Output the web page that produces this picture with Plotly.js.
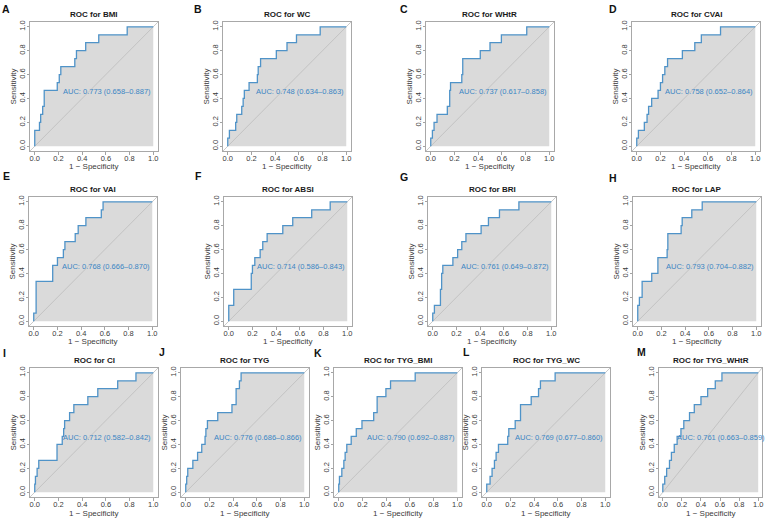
<!DOCTYPE html>
<html>
<head>
<meta charset="utf-8">
<script src="https://cdn.plot.ly/plotly-3.0.1.min.js"></script>
<style>html,body{margin:0;padding:0;background:#fff;}#chart{width:767px;height:519px;}</style>
</head>
<body>
<div id="chart"></div>
<script>
// ---- data ----
const panelLetters = ['A','B','C','D','E','F','G','H','I','J','K','L','M'];
const panelNames = ['BMI','WC','WHtR','CVAI','VAI','ABSI','BRI','LAP','CI','TYG','TYG_BMI','TYG_WC','TYG_WHtR'];
const aucLabels = [
  'AUC: 0.773 (0.658–0.887)','AUC: 0.748 (0.634–0.863)','AUC: 0.737 (0.617–0.858)','AUC: 0.758 (0.652–0.864)',
  'AUC: 0.768 (0.666–0.870)','AUC: 0.714 (0.586–0.843)','AUC: 0.761 (0.649–0.872)','AUC: 0.793 (0.704–0.882)',
  'AUC: 0.712 (0.582–0.842)','AUC: 0.776 (0.686–0.866)','AUC: 0.790 (0.692–0.887)','AUC: 0.769 (0.677–0.860)',
  'AUC: 0.761 (0.663–0.859)'];
const tickValues = [0, 0.2, 0.4, 0.6, 0.8, 1.0];
const tickLabels = ['0.0','0.2','0.4','0.6','0.8','1.0'];

// 1 - specificity (x) and sensitivity (y) at each step corner
const fprBMI = [0,0,0.04,0.05,0.067,0.08,0.19,0.207,0.22,0.338,0.352,0.43,0.54,0.78,1];
const tprBMI = [0,0.133,0.2,0.267,0.333,0.467,0.533,0.6,0.667,0.733,0.8,0.867,0.933,1,1];
const fprWC = [0,0,0.014,0.067,0.076,0.118,0.13,0.14,0.18,0.25,0.257,0.277,0.41,0.5,0.58,0.78,1];
const tprWC = [0,0.067,0.133,0.2,0.267,0.333,0.4,0.467,0.533,0.6,0.667,0.733,0.8,0.867,0.933,1,1];
const fprWHtR = [0,0,0.014,0.028,0.053,0.14,0.16,0.167,0.262,0.27,0.418,0.5,0.596,0.81,1];
const tprWHtR = [0,0.067,0.133,0.2,0.267,0.333,0.467,0.533,0.6,0.733,0.8,0.867,0.933,1,1];
const fprCVAI = [0,0,0.014,0.064,0.087,0.1,0.126,0.18,0.2,0.218,0.237,0.26,0.385,0.49,0.545,0.707,1];
const tprCVAI = [0,0.067,0.133,0.2,0.267,0.333,0.4,0.467,0.533,0.6,0.667,0.733,0.8,0.867,0.933,1,1];
const fprVAI = [0,0,0.02,0.16,0.2,0.25,0.263,0.35,0.375,0.44,0.57,0.585,1];
const tprVAI = [0,0.067,0.333,0.467,0.533,0.6,0.667,0.733,0.8,0.867,0.933,1,1];
const fprABSI = [0,0,0.042,0.19,0.2,0.22,0.265,0.287,0.324,0.456,0.54,0.7,0.856,1];
const tprABSI = [0,0.133,0.267,0.4,0.467,0.533,0.6,0.667,0.733,0.8,0.867,0.933,1,1];
const fprBRI = [0,0,0.014,0.065,0.075,0.085,0.17,0.21,0.245,0.28,0.408,0.47,0.563,0.727,1];
const tprBRI = [0,0.067,0.133,0.267,0.4,0.467,0.533,0.6,0.667,0.733,0.8,0.867,0.933,1,1];
const fprLAP = [0,0,0.014,0.037,0.118,0.17,0.248,0.254,0.366,0.375,0.456,0.544,1];
const tprLAP = [0,0.133,0.2,0.333,0.4,0.533,0.6,0.733,0.8,0.867,0.933,1,1];
const fprCI = [0,0,0.006,0.02,0.034,0.188,0.232,0.244,0.252,0.294,0.33,0.448,0.532,0.7,0.854,1];
const tprCI = [0,0.067,0.133,0.2,0.267,0.4,0.467,0.533,0.6,0.667,0.733,0.8,0.867,0.933,1,1];
const fprTYG = [0,0,0.008,0.017,0.06,0.1,0.135,0.163,0.17,0.183,0.27,0.39,0.425,0.453,0.467,1];
const tprTYG = [0,0.067,0.133,0.2,0.267,0.333,0.4,0.467,0.533,0.6,0.667,0.733,0.867,0.933,1,1];
const fprTYG_BMI = [0,0,0.006,0.026,0.043,0.054,0.068,0.105,0.148,0.196,0.295,0.324,0.398,0.437,0.645,1];
const tprTYG_BMI = [0,0.067,0.133,0.2,0.267,0.333,0.4,0.467,0.533,0.6,0.667,0.8,0.867,0.933,1,1];
const fprTYG_WC = [0,0,0.028,0.045,0.065,0.079,0.099,0.177,0.186,0.24,0.285,0.375,0.437,0.453,0.577,1];
const tprTYG_WC = [0,0.067,0.133,0.2,0.267,0.333,0.4,0.467,0.533,0.6,0.733,0.8,0.867,0.933,1,1];
const fprTYG_WHtR = [0,0,0.02,0.04,0.07,0.09,0.12,0.15,0.19,0.22,0.28,0.33,0.4,0.47,0.55,0.62,1];
const tprTYG_WHtR = [0,0.067,0.133,0.2,0.267,0.333,0.4,0.467,0.533,0.6,0.667,0.733,0.8,0.867,0.933,1,1];

const fprs = [fprBMI,fprWC,fprWHtR,fprCVAI,fprVAI,fprABSI,fprBRI,fprLAP,fprCI,fprTYG,fprTYG_BMI,fprTYG_WC,fprTYG_WHtR];
const tprs = [tprBMI,tprWC,tprWHtR,tprCVAI,tprVAI,tprABSI,tprBRI,tprLAP,tprCI,tprTYG,tprTYG_BMI,tprTYG_WC,tprTYG_WHtR];

// ---- layout (pixel boxes of each plot frame: left, top, right, bottom) ----
const W = 767, H = 519;
const boxes = [
  [30,22,158,151],[223,22,351,151],[426,22,554,151],[632,22,760,151],
  [29,197,157,326],[224,197,352,326],[428,197,556,326],[633,197,761,326],
  [30,368,158,497],[181,368,309,497],[334,368,462,497],[482,368,610,497],[659,368,762,497]];
const letterPos = [[6,9],[198,9],[404,9],[613,9],[6,176],[198,176],[404,177],[613,178],[4,353],[162,352],[318,353],[466,352],[641,352]];
const xTitleGap = [15.5,15.5,15.5,15.5,15.5,15.5,15.5,15.5,16,16,16,16,16];

const FONT = 'Liberation Sans, Arial, Helvetica, sans-serif';
const R = [-0.04, 1.04];
const traces = [], annotations = [];
const layout = {
  width: W, height: H, margin: {l:0,r:0,t:0,b:0},
  paper_bgcolor: '#fff', plot_bgcolor: '#fff', showlegend: false,
  font: {family: FONT, size: 7.5, color: '#3a3a3a'}
};
const px = v => v / W, py = v => 1 - v / H;

for (let i = 0; i < 13; i++) {
  const s = i === 0 ? '' : String(i + 1);
  const xr = 'x' + s, yr = 'y' + s;
  const b = boxes[i];
  layout['xaxis' + s] = {
    domain: [px(b[0]), px(b[2])], anchor: yr, range: R, fixedrange: true,
    tickvals: tickValues, ticktext: tickLabels, ticks: 'outside', ticklen: 2.5, tickwidth: 0.8,
    ticklabelstandoff: -3,
    tickcolor: '#8c8c8c', showline: true, mirror: true, linecolor: '#a8a8a8', linewidth: 1,
    showgrid: false, zeroline: false, tickfont: {size: 7.5, color: '#3a3a3a', family: FONT}
  };
  layout['yaxis' + s] = {
    domain: [py(b[3]), py(b[1])], anchor: xr, range: R, fixedrange: true,
    tickvals: tickValues, ticktext: tickLabels, ticks: 'outside', ticklen: 2.5, tickwidth: 0.8,
    ticklabelstandoff: -1,
    tickcolor: '#8c8c8c', showline: true, mirror: true, linecolor: '#a8a8a8', linewidth: 1,
    showgrid: false, zeroline: false, tickangle: -90, tickfont: {size: 7.5, color: '#3a3a3a', family: FONT}
  };
  traces.push({x: fprs[i], y: tprs[i], xaxis: xr, yaxis: yr, type: 'scatter', mode: 'lines',
    line: {shape: 'hv', width: 0, color: 'rgba(0,0,0,0)'}, fill: 'tozeroy', fillcolor: '#dadada', hoverinfo: 'skip'});
  traces.push({x: R, y: R, xaxis: xr, yaxis: yr, type: 'scatter', mode: 'lines',
    line: {width: 0.8, color: '#bdbdbd'}, hoverinfo: 'skip'});
  traces.push({x: fprs[i], y: tprs[i], xaxis: xr, yaxis: yr, type: 'scatter', mode: 'lines',
    line: {shape: 'hv', width: 1.3, color: '#4f93c8'}, hoverinfo: 'skip'});

  const cx = px((b[0] + b[2]) / 2);
  annotations.push({text: '<b>ROC for ' + panelNames[i] + '</b>', xref: 'paper', yref: 'paper',
    x: cx, y: py(b[1]), yanchor: 'bottom', xanchor: 'center', yshift: 1, showarrow: false,
    font: {size: 8, color: '#1a1a1a', family: FONT}});
  annotations.push({text: '1 − Specificity', xref: 'paper', yref: 'paper',
    x: cx, y: py(b[3] + xTitleGap[i]), yanchor: 'middle', xanchor: 'center', showarrow: false,
    font: {size: 8, color: '#3a3a3a', family: FONT}});
  annotations.push({text: 'Sensitivity', xref: 'paper', yref: 'paper', textangle: -90,
    x: px(b[0] - 17), y: py((b[1] + b[3]) / 2), yanchor: 'middle', xanchor: 'center', showarrow: false,
    font: {size: 8, color: '#3a3a3a', family: FONT}});
  annotations.push({text: '<b>' + panelLetters[i] + '</b>', xref: 'paper', yref: 'paper',
    x: px(letterPos[i][0]), y: py(letterPos[i][1]), xanchor: 'center', yanchor: 'middle', showarrow: false,
    font: {size: 10.5, color: '#111', family: FONT}});
  annotations.push({text: aucLabels[i], xref: xr, yref: yr, x: 0.61, y: 0.46,
    xanchor: 'center', yanchor: 'middle', showarrow: false,
    font: {size: 7.5, color: '#3a86c4', family: FONT}});
}
layout.annotations = annotations;
Plotly.newPlot('chart', traces, layout, {staticPlot: true, displayModeBar: false});
</script>
</body>
</html>
